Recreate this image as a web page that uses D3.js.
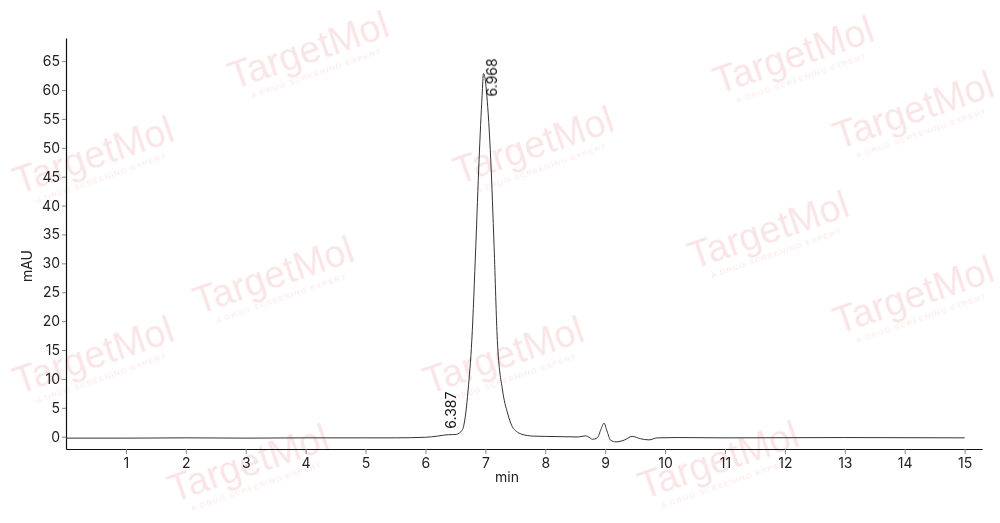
<!DOCTYPE html>
<html><head><meta charset="utf-8">
<script src="https://cdn.jsdelivr.net/npm/d3@7"></script>
<style>body{margin:0;background:#fff}svg{display:block}</style>
</head><body>
<svg id="c" width="1000" height="523"></svg>
<script>
// Chromatogram data (time in min, absorbance in mAU)
const time = [0, 1, 2, 3, 4, 5, 5.5, 6.0, 6.2, 6.3, 6.387, 6.45, 6.52, 6.56, 6.6, 6.635, 6.673, 6.712, 6.774, 6.84, 6.895, 6.946, 6.968, 6.99, 7.024, 7.09, 7.146, 7.2, 7.286, 7.37, 7.45, 7.52, 7.6, 7.7, 7.8, 8.0, 8.3, 8.55, 8.675, 8.73, 8.79, 8.87, 8.93, 8.98, 9.03, 9.09, 9.18, 9.315, 9.45, 9.59, 9.73, 9.87, 10.2, 11, 13, 15];
const mAU  = [-0.25, -0.25, -0.2, -0.25, -0.2, -0.2, -0.2, -0.1, 0.1, 0.25, 0.35, 0.35, 0.4, 0.6, 0.95, 1.73, 4.1, 8.08, 16.7, 32.9, 47.9, 59.1, 62.85, 62.3, 59.1, 47.9, 32.9, 16.7, 8.08, 4.1, 1.73, 0.9, 0.45, 0.2, 0.1, 0.05, 0.0, -0.05, 0.15, -0.1, -0.45, -0.2, 1.3, 2.35, 1.0, -0.6, -0.9, -0.6, 0.05, -0.35, -0.55, -0.2, -0.15, -0.2, -0.15, -0.2];
const peakTimes  = [6.387, 6.968];
const peakLabels = ["6.387", "6.968"];
const xTicks = [1,2,3,4,5,6,7,8,9,10,11,12,13,14,15];
const yTicks = [0,5,10,15,20,25,30,35,40,45,50,55,60,65];
const xTitle = "min";
const yTitle = "mAU";
const watermarks = [[310,55],[795,60],[95,160],[535,150],[915,115],[275,280],[770,235],[915,300],[95,360],[505,360],[250,468],[720,465]];

const svg = d3.select("#c");
const font = "Inter, 'Liberation Sans', Arial, sans-serif";

// watermarks
const wm = svg.append("g").attr("opacity", 0.13);
watermarks.forEach(([cx, cy]) => {
  const g = wm.append("g").attr("transform", `translate(${cx},${cy}) rotate(-19)`);
  g.append("text").attr("text-anchor","middle").attr("font-family","'Liberation Sans', Arial, sans-serif")
    .attr("font-size",38).attr("fill","#d9363e").attr("y",8).text("TargetMol");
  g.append("text").attr("text-anchor","middle").attr("font-family","'Liberation Sans', Arial, sans-serif")
    .attr("font-size",8).attr("letter-spacing",1).attr("fill","#d9363e").attr("y",22).text("A DRUG SCREENING EXPERT");
});

const x = d3.scaleLinear().domain([0, 15.29]).range([66, 982]);
const y = d3.scaleLinear().domain([-2.13, 69]).range([449, 38]);

// axes
const xAxis = svg.append("g").attr("transform","translate(0,449)")
  .call(d3.axisBottom(x).tickValues(xTicks).tickFormat(d3.format("d")).tickSize(5).tickSizeOuter(0));
const yAxis = svg.append("g").attr("transform","translate(66,0)")
  .call(d3.axisLeft(y).tickValues(yTicks).tickFormat(d3.format("d")).tickSize(4).tickSizeOuter(0));
[xAxis, yAxis].forEach(a => {
  a.select(".domain").attr("stroke","#111").attr("stroke-width",1.2);
  a.selectAll(".tick line").attr("stroke","#888");
  a.selectAll(".tick text").attr("font-family",font).attr("font-size",14).attr("fill","#222");
});
xAxis.selectAll(".tick text").attr("dy","0.82em");
yAxis.selectAll(".tick text").attr("x",-6);

svg.append("text").attr("x",507).attr("y",482).attr("text-anchor","middle")
  .attr("font-family",font).attr("font-size",14).attr("fill","#222").text(xTitle);
svg.append("text").attr("transform","translate(32,266) rotate(-90)").attr("text-anchor","middle")
  .attr("font-family",font).attr("font-size",14).attr("fill","#222").text(yTitle);

// trace
const pts = time.map((t,i)=>[t, mAU[i]]);
svg.append("path").datum(pts)
  .attr("fill","none").attr("stroke","#333").attr("stroke-width",1)
  .attr("d", d3.line().x(d=>x(d[0])).y(d=>y(d[1])).curve(d3.curveMonotoneX));

// peak labels
const peakVal = t => mAU[time.indexOf(t)];
const dxs = [7, 13.5], dys = [-6, 23];
peakTimes.forEach((t,i) => {
  const px = x(t) + dxs[i], py = y(peakVal(t)) + dys[i];
  svg.append("text").attr("transform",`translate(${px},${py}) rotate(-90)`)
    .attr("font-family",font).attr("font-size",14).attr("fill","#111").text(peakLabels[i]);
});
</script>
</body></html>
